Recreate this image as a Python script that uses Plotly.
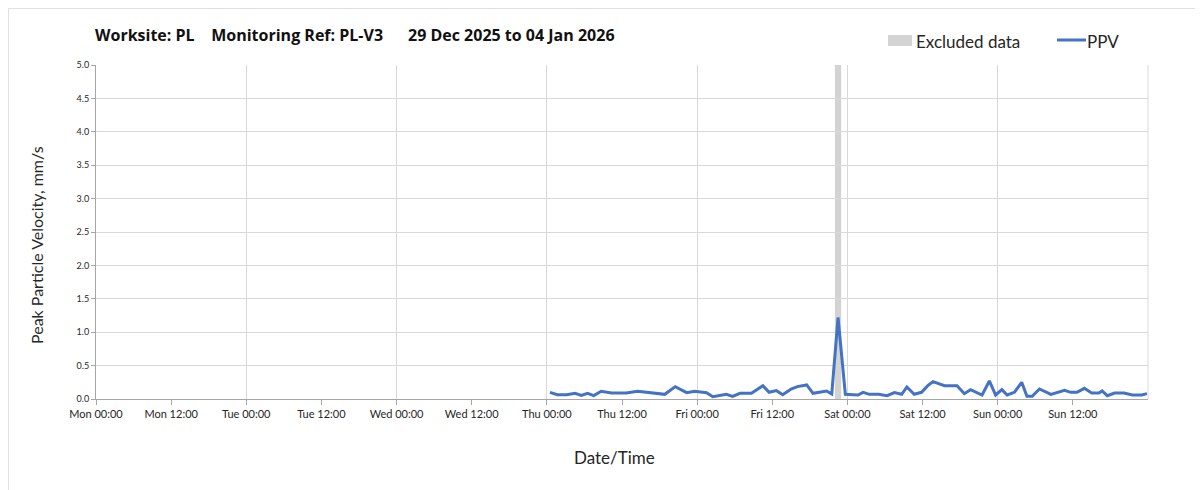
import plotly.graph_objects as go
import pandas as pd

# ---------------- data ----------------
ppv_time = [
    "2026-01-01 00:30", "2026-01-01 01:40", "2026-01-01 03:10", "2026-01-01 04:30",
    "2026-01-01 05:30", "2026-01-01 06:30", "2026-01-01 07:30", "2026-01-01 08:40",
    "2026-01-01 10:20", "2026-01-01 12:40", "2026-01-01 14:30", "2026-01-01 16:20",
    "2026-01-01 18:50", "2026-01-01 20:30", "2026-01-01 22:20", "2026-01-01 23:35",
    "2026-01-02 01:30", "2026-01-02 02:30", "2026-01-02 04:40", "2026-01-02 05:40",
    "2026-01-02 06:50", "2026-01-02 08:40", "2026-01-02 10:30", "2026-01-02 11:30",
    "2026-01-02 12:40", "2026-01-02 13:40", "2026-01-02 15:00", "2026-01-02 16:00",
    "2026-01-02 17:30", "2026-01-02 18:30", "2026-01-02 19:50", "2026-01-02 20:40",
    "2026-01-02 21:30", "2026-01-02 22:30", "2026-01-02 23:40",
    "2026-01-03 00:40", "2026-01-03 01:40", "2026-01-03 02:30", "2026-01-03 03:30",
    "2026-01-03 05:00", "2026-01-03 06:20", "2026-01-03 07:30", "2026-01-03 08:40",
    "2026-01-03 09:30", "2026-01-03 10:40", "2026-01-03 11:50", "2026-01-03 12:50",
    "2026-01-03 13:40", "2026-01-03 15:30", "2026-01-03 17:30", "2026-01-03 18:40",
    "2026-01-03 19:40", "2026-01-03 21:30", "2026-01-03 22:40", "2026-01-03 23:40",
    "2026-01-04 00:40", "2026-01-04 01:30", "2026-01-04 02:40", "2026-01-04 03:50",
    "2026-01-04 04:40", "2026-01-04 05:30", "2026-01-04 06:40", "2026-01-04 08:30",
    "2026-01-04 10:40", "2026-01-04 11:40", "2026-01-04 12:40", "2026-01-04 13:50",
    "2026-01-04 15:00", "2026-01-04 16:10", "2026-01-04 16:40", "2026-01-04 17:30",
    "2026-01-04 18:40", "2026-01-04 20:10", "2026-01-04 21:30", "2026-01-04 23:00",
    "2026-01-04 23:50",
]
ppv_value = [
    0.10, 0.065, 0.065, 0.085,
    0.055, 0.085, 0.05, 0.115,
    0.09, 0.09, 0.115, 0.10,
    0.07, 0.185, 0.095, 0.115,
    0.095, 0.035, 0.07, 0.04,
    0.085, 0.085, 0.20, 0.10,
    0.125, 0.065, 0.15, 0.185,
    0.21, 0.085, 0.10, 0.12,
    0.075, 1.22, 0.07,
    0.07, 0.06, 0.10, 0.07,
    0.07, 0.05, 0.095, 0.07,
    0.18, 0.07, 0.10, 0.20,
    0.26, 0.20, 0.20, 0.08,
    0.14, 0.06, 0.27, 0.06,
    0.14, 0.06, 0.10, 0.25,
    0.04, 0.04, 0.15, 0.07,
    0.13, 0.10, 0.10, 0.16,
    0.09, 0.09, 0.12, 0.05,
    0.09, 0.09, 0.06, 0.06,
    0.08,
]
excluded_start = "2026-01-02 22:00"
excluded_end = "2026-01-02 23:00"

tick_labels = ["Mon 00:00", "Mon 12:00", "Tue 00:00", "Tue 12:00", "Wed 00:00",
               "Wed 12:00", "Thu 00:00", "Thu 12:00", "Fri 00:00", "Fri 12:00",
               "Sat 00:00", "Sat 12:00", "Sun 00:00", "Sun 12:00"]
x_start = "2025-12-29 00:00"
x_end = "2026-01-05 00:00"
y_range = [0, 5]
title_parts = ["Worksite: PL", "Monitoring Ref: PL-V3", "29 Dec 2025 to 04 Jan 2026"]
x_title = "Date/Time"
y_title = "Peak Particle Velocity, mm/s"

# ---------------- figure ----------------
OFF = 8  # page body margin offset
W, H = 1203, 490
PL, PR, PT, PB = 96, 1148, 65, 399  # target plot box in page pixels
ML, MT = PL - OFF, PT - OFF
MR, MB = W - (PR - OFF), H - (PB - OFF)
PW, PH = PR - PL, PB - PT
FONT = "Lato, 'Open Sans', sans-serif"
LINE_COLOR = "#4472C4"
BAND_COLOR = "#D3D3D3"
TXT = "#262626"


def px_x(px):
    return (px - PL) / PW


def px_y(py):
    return (PB - py) / PH


tick_vals = pd.date_range(x_start, periods=len(tick_labels), freq="12h")
sp4 = "&nbsp;" * 4
sp6 = "&nbsp;" * 6
title_text = title_parts[0] + sp4 + title_parts[1] + sp6 + title_parts[2]

fig = go.Figure()
fig.add_vrect(x0=excluded_start, x1=excluded_end, y0=0, y1=1,
              fillcolor=BAND_COLOR, opacity=1, line_width=0, layer="below")
fig.add_trace(go.Scatter(
    x=pd.to_datetime(ppv_time), y=ppv_value, mode="lines",
    line=dict(color=LINE_COLOR, width=3), name="PPV", showlegend=False,
))

grid = "#D9D9D9"
fig.update_layout(
    width=W, height=H,
    margin=dict(l=ML, r=MR, t=MT, b=MB),
    paper_bgcolor="white", plot_bgcolor="white",
    font=dict(family=FONT, color=TXT),
    title=dict(text=title_text, x=(95 - OFF) / W, xref="container", xanchor="left",
               y=1 - (35 - OFF) / H, yref="container", yanchor="middle",
               font=dict(family="'Open Sans', sans-serif", size=16, color="#111111",
                         weight="bold")),
    xaxis=dict(
        type="date", range=[x_start, x_end],
        tickmode="array", tickvals=tick_vals, ticktext=tick_labels,
        ticks="outside", ticklen=5, tickcolor="#A6A6A6",
        showgrid=False, showline=True, linecolor="#A6A6A6", linewidth=1,
        tickfont=dict(size=11, color=TXT),
        minor=dict(dtick=86400000, tick0=x_start, showgrid=True,
                   gridcolor=grid, gridwidth=1, ticks=""),
        zeroline=False,
    ),
    yaxis=dict(
        range=y_range, dtick=0.5, tick0=0, tickformat=".1f",
        ticks="outside", ticklen=4, tickcolor="#A6A6A6",
        showgrid=True, gridcolor=grid, gridwidth=1,
        showline=True, linecolor="#A6A6A6", linewidth=1,
        tickfont=dict(size=9, color=TXT),
        zeroline=False,
    ),
    showlegend=False,
)

# axis titles (positioned as in reference)
fig.add_annotation(xref="paper", yref="paper", x=px_x(614), y=px_y(458),
                   text=x_title, showarrow=False, xanchor="center", yanchor="middle",
                   font=dict(size=17, color=TXT))
fig.add_annotation(xref="paper", yref="paper", x=px_x(36), y=px_y(245),
                   text=y_title, showarrow=False, xanchor="center", yanchor="middle",
                   textangle=-90, font=dict(size=16, color=TXT))

# right border at range end
fig.add_shape(type="line", xref="paper", yref="paper", x0=1, x1=1, y0=0, y1=1,
              line=dict(color=grid, width=1))

# outer container border
fig.add_shape(type="rect", xref="paper", yref="paper",
              x0=px_x(OFF + 0.5), x1=px_x(1220), y0=px_y(OFF + 0.5), y1=px_y(505),
              line=dict(color="#E0E0E0", width=1), fillcolor="rgba(0,0,0,0)", layer="below")

# manual legend
fig.add_shape(type="rect", xref="paper", yref="paper",
              x0=px_x(888), x1=px_x(912), y0=px_y(35), y1=px_y(46),
              fillcolor=BAND_COLOR, line_width=0)
fig.add_annotation(xref="paper", yref="paper", x=px_x(914), y=px_y(41),
                   text="Excluded data", showarrow=False, xanchor="left", yanchor="middle",
                   font=dict(size=17, color=TXT))
fig.add_shape(type="line", xref="paper", yref="paper",
              x0=px_x(1057), x1=px_x(1086), y0=px_y(40), y1=px_y(40),
              line=dict(color=LINE_COLOR, width=3))
fig.add_annotation(xref="paper", yref="paper", x=px_x(1085), y=px_y(41),
                   text="PPV", showarrow=False, xanchor="left", yanchor="middle",
                   font=dict(size=17, color=TXT))

fig.write_html("out.html")
